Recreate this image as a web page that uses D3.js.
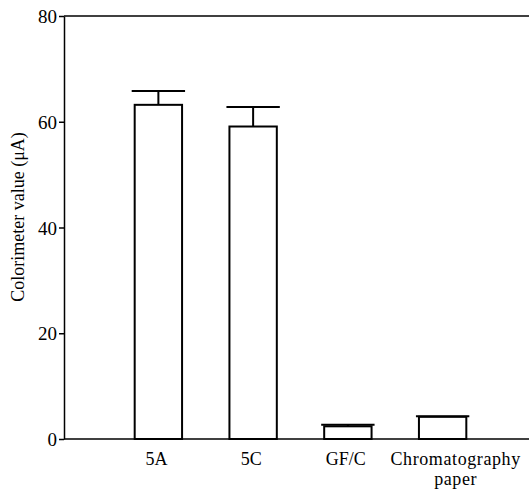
<!DOCTYPE html>
<html>
<head>
<meta charset="utf-8">
<script src="https://cdn.jsdelivr.net/npm/d3@7"></script>
<style>
  body { margin: 0; background: #fff; }
  svg text { font-family: "Liberation Serif", "Times New Roman", serif; fill: #000; }
</style>
</head>
<body>
<svg id="mainsvg" width="529" height="491"></svg>
<script>
const categories = ['5A', '5C', 'GF/C', 'Chromatography paper'];
const labelLines = [['5A'], ['5C'], ['GF/C'], ['Chromatography', 'paper']];
const means = [63.2, 59.1, 2.4, 4.2];
const upper = [65.8, 62.8, 2.7, 4.3];
const yTicks = [0, 20, 40, 60, 80];

const serif = '"Liberation Serif", "Times New Roman", serif';
const svg = d3.select('#mainsvg');
const width = +svg.attr('width');
const height = +svg.attr('height');
const margin = { top: 16, right: 0, bottom: 52, left: 64 };
const innerWidth = width - margin.left - margin.right;
const innerHeight = height - margin.top - margin.bottom;

const g = svg.append('g')
  .attr('transform', `translate(${margin.left}, ${margin.top})`);

const xScale = d3.scaleBand()
  .domain(categories)
  .range([47, 426])
  .paddingInner(0.5)
  .paddingOuter(0.25);

const yScale = d3.scaleLinear()
  .domain([0, 80])
  .range([innerHeight, 0]);

// y axis
const yAxis = d3.axisLeft(yScale)
  .tickValues(yTicks)
  .tickSize(5)
  .tickPadding(2)
  .tickSizeOuter(0);
const ya = g.append('g').call(yAxis)
  .attr('font-family', serif)
  .attr('font-size', 19);
ya.select('.domain').attr('stroke-width', 1.5);
ya.selectAll('.tick line').attr('stroke-width', 1.5);
ya.selectAll('.tick text').attr('dy', '0.35em');

// top frame line
g.append('line')
  .attr('x1', 0).attr('x2', innerWidth)
  .attr('y1', 0).attr('y2', 0)
  .attr('stroke', '#000')
  .attr('stroke-width', 1.5);

// x axis
const xAxis = d3.axisBottom(xScale).tickSize(0).tickFormat('');
const xa = g.append('g')
  .attr('transform', `translate(0, ${innerHeight})`)
  .call(xAxis)
  .attr('font-family', serif)
  .attr('font-size', 18);
xa.select('.domain')
  .attr('d', `M0,0H${innerWidth}`)
  .attr('stroke-width', 1.5);

xa.selectAll('.tick').each(function (d, i) {
  const t = d3.select(this).append('text')
    .attr('text-anchor', 'middle')
    .attr('fill', '#000')
    .attr('letter-spacing', i === 3 ? 0.6 : 0)
    .attr('transform', `translate(${i === 3 ? 13 : -2}, 0)`);
  labelLines[i].forEach((line, j) => {
    t.append('tspan')
      .attr('x', 0)
      .attr('y', 26 + j * 20)
      .text(line);
  });
});

// bars
g.selectAll('rect.bar')
  .data(categories)
  .join('rect')
  .attr('class', 'bar')
  .attr('x', d => xScale(d))
  .attr('y', (d, i) => yScale(means[i]))
  .attr('width', xScale.bandwidth())
  .attr('height', (d, i) => innerHeight - yScale(means[i]))
  .attr('fill', '#fff')
  .attr('stroke', '#000')
  .attr('stroke-width', 2);

// error bars
const capHalf = xScale.bandwidth() / 2 + 3;
const err = g.selectAll('g.err')
  .data(categories)
  .join('g')
  .attr('class', 'err')
  .attr('transform', d => `translate(${xScale(d) + xScale.bandwidth() / 2}, 0)`);
err.append('line')
  .attr('x1', 0).attr('x2', 0)
  .attr('y1', (d, i) => yScale(means[i]))
  .attr('y2', (d, i) => yScale(upper[i]))
  .attr('stroke', '#000')
  .attr('stroke-width', 2);
err.append('line')
  .attr('x1', -capHalf).attr('x2', capHalf)
  .attr('y1', (d, i) => yScale(upper[i]))
  .attr('y2', (d, i) => yScale(upper[i]))
  .attr('stroke', '#000')
  .attr('stroke-width', 2);

// y label
svg.append('text')
  .attr('transform', `translate(24, 217) rotate(-90)`)
  .attr('text-anchor', 'middle')
  .attr('font-size', 18)
  .text('Colorimeter value (μA)');
</script>
</body>
</html>
